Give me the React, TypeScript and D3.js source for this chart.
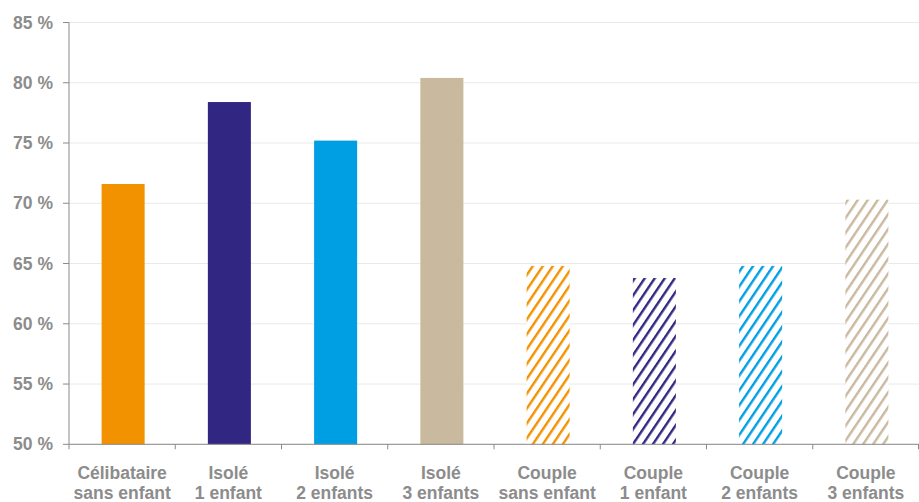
import React from "react";
import * as d3 from "d3";

const categories = [
  ["Célibataire", "sans enfant"],
  ["Isolé", "1 enfant"],
  ["Isolé", "2 enfants"],
  ["Isolé", "3 enfants"],
  ["Couple", "sans enfant"],
  ["Couple", "1 enfant"],
  ["Couple", "2 enfants"],
  ["Couple", "3 enfants"],
];
const values = [71.6, 78.4, 75.2, 80.4, 64.8, 63.8, 64.8, 70.3];
const hatched = [false, false, false, false, true, true, true, true];
const colors = ["#F39200", "#312783", "#009FE3", "#C9B99E", "#F39200", "#312783", "#009FE3", "#C9B99E"];
const yTicks = [50, 55, 60, 65, 70, 75, 80, 85];

const W = 919;
const H = 502;
const margin = { left: 69, right: 0, top: 22.5, bottom: 57.7 };

export default function App() {
  const x = d3
    .scaleBand<number>()
    .domain(d3.range(categories.length))
    .range([margin.left, W - margin.right])
    .paddingInner(0)
    .paddingOuter(0);
  const y = d3.scaleLinear().domain([50, 85]).range([H - margin.bottom, margin.top]);
  const barW = x.bandwidth() * 0.405;
  const axisColor = "#8a8a8a";
  const textColor = "#8c8c8c";
  const font = "'Liberation Sans', Arial, sans-serif";
  const y0 = y(50);

  return (
    <svg width={W} height={H} style={{ position: "absolute", left: 0, top: 0 }} fontFamily={font}>
      <defs>
        {colors.map((c, i) => (
          <pattern
            key={i}
            id={`hatch-${i}`}
            patternUnits="userSpaceOnUse"
            width={8.3}
            height={20}
            patternTransform="rotate(34)"
          >
            <rect x={0} y={0} width={8.3} height={20} fill="#fff" />
            <rect x={0} y={0} width={2.4} height={20} fill={c} />
          </pattern>
        ))}
      </defs>
      <rect width={W} height={H} fill="#fff" />
      {/* gridlines */}
      {yTicks.map((t) => (
        <line key={t} x1={margin.left} x2={W} y1={y(t)} y2={y(t)} stroke="#e9e9e9" strokeWidth={1} />
      ))}
      {/* bars */}
      {values.map((v, i) => {
        const cx = (x(i) as number) + x.bandwidth() / 2 + 1;
        return (
          <rect
            key={i}
            x={cx - barW / 2}
            y={y(v)}
            width={barW}
            height={y0 - y(v)}
            fill={hatched[i] ? `url(#hatch-${i})` : colors[i]}
          />
        );
      })}
      {/* y axis */}
      <line x1={margin.left} x2={margin.left} y1={margin.top} y2={y0} stroke={axisColor} strokeWidth={1} />
      {yTicks.map((t) => (
        <g key={t}>
          <line x1={margin.left - 6} x2={margin.left} y1={y(t)} y2={y(t)} stroke={axisColor} />
          <text
            x={53}
            y={y(t)}
            dy="0.35em"
            textAnchor="end"
            fontSize={17.5}
            fontWeight="bold"
            fill={textColor}
          >
            {`${t} %`}
          </text>
        </g>
      ))}
      {/* x axis */}
      <line x1={margin.left} x2={W} y1={y0} y2={y0} stroke={axisColor} strokeWidth={1} />
      {d3.range(categories.length + 1).map((i) => {
        const xx = i < categories.length ? (x(i) as number) : W - 0.5;
        return <line key={i} x1={xx} x2={xx} y1={y0} y2={y0 + 5} stroke={axisColor} />;
      })}
      {categories.map((lines, i) => {
        const cx = (x(i) as number) + x.bandwidth() / 2;
        return (
          <text key={i} textAnchor="middle" fontSize={17.5} fontWeight="bold" fill={textColor}>
            {lines.map((l, j) => (
              <tspan key={j} x={cx} y={479 + j * 19.5}>
                {l}
              </tspan>
            ))}
          </text>
        );
      })}
    </svg>
  );
}
